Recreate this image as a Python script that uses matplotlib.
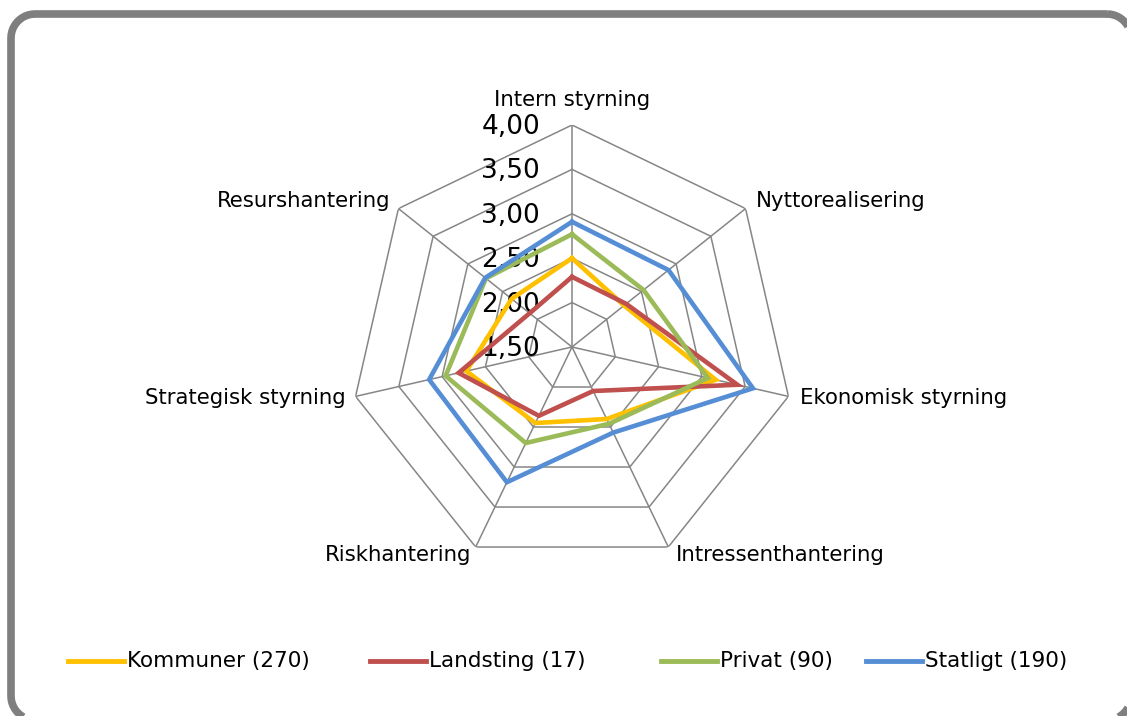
import numpy as np
import matplotlib
matplotlib.use('Agg')
import matplotlib.pyplot as plt
from matplotlib.lines import Line2D
from matplotlib.patches import Polygon

# kategorier (medurs från toppen)
categories = ['Intern styrning', 'Nyttorealisering', 'Ekonomisk styrning',
              'Intressenthantering', 'Riskhantering', 'Strategisk styrning',
              'Resurshantering']

# värden per grupp
kommuner = [2.50, 2.25, 3.16, 2.40, 2.45, 2.72, 2.37]
landsting = [2.29, 2.28, 3.41, 2.05, 2.36, 2.81, 2.11]
privat = [2.77, 2.53, 3.07, 2.46, 2.70, 2.96, 2.74]
statligt = [2.91, 2.89, 3.59, 2.57, 3.19, 3.15, 2.75]

series_names = ['Kommuner (270)', 'Landsting (17)', 'Privat (90)', 'Statligt (190)']
series_values = [kommuner, landsting, privat, statligt]
series_colors = ['#FFC000', '#C0504D', '#9BBB59', '#558ED5']

ticks = [1.5, 2.0, 2.5, 3.0, 3.5, 4.0]

W, H = 1127, 716
fig = plt.figure(figsize=(W / 100, H / 100), dpi=100)


def rounded_rect(x0, y0, x1, y1, rad):
    """hörnpunkter för en rundad rektangel i pixlar (y nedåt)"""
    pts = []
    for (ccx, ccy, a0) in [(x1 - rad, y0 + rad, -90), (x1 - rad, y1 - rad, 0),
                           (x0 + rad, y1 - rad, 90), (x0 + rad, y0 + rad, 180)]:
        a = np.radians(np.linspace(a0, a0 + 90, 12))
        pts += [(ccx + rad * np.cos(v), ccy + rad * np.sin(v)) for v in a]
    return [(px / W, 1 - py / H) for px, py in pts]


# ram runt diagrammet (går utanför bilden nere och till höger)
frame = Polygon(rounded_rect(11, 14, 1131, 720, 24), closed=True,
                transform=fig.transFigure, facecolor='none',
                edgecolor='#7F7F7F', linewidth=5.5, zorder=-1)
fig.patches.append(frame)

cx, cy, R = 572, 347, 222
ax = fig.add_axes([(cx - R) / W, (H - cy - R) / H, 2 * R / W, 2 * R / H],
                  projection='polar')
ax.set_theta_offset(np.pi / 2)
ax.set_theta_direction(-1)
ax.set_ylim(ticks[0], ticks[-1])
ax.grid(False)
ax.spines['polar'].set_visible(False)
ax.set_xticks([])
ax.set_yticks([])
ax.patch.set_alpha(0)

n = len(categories)
theta = np.linspace(0, 2 * np.pi, n, endpoint=False)
theta_c = np.append(theta, theta[0])

grid_col = '#868686'
for r in ticks[1:]:
    ax.plot(theta_c, [r] * (n + 1), color=grid_col, lw=1.1, zorder=1)
for t in theta:
    ax.plot([t, t], [ticks[0], ticks[-1]], color=grid_col, lw=1.1, zorder=1)

for vals, col in zip(series_values, series_colors):
    ax.plot(theta_c, vals + vals[:1], color=col, lw=3.3, zorder=3,
            solid_joinstyle='miter', clip_on=False)

# skalans etiketter
for r in ticks:
    ax.annotate(f'{r:.2f}'.replace('.', ','), xy=(0, r), xytext=(-32, -2),
                textcoords='offset pixels', ha='right', va='center',
                fontsize=19, color='black', zorder=2, annotation_clip=False)

# kategoriernas etiketter
offsets = [(0, 25), (10, 8), (12, -2), (8, -8), (-4, -8), (-10, -2), (-8, 8)]
aligns = ['center', 'left', 'left', 'left', 'right', 'right', 'right']
for t, lab, off, ha in zip(theta, categories, offsets, aligns):
    ax.annotate(lab, xy=(t, ticks[-1]), xytext=off, textcoords='offset pixels',
                ha=ha, va='center', fontsize=15.3, annotation_clip=False)

# förklaring
leg_x = [68, 370, 661, 866]
leg_y = (H - 661) / H
for x0, name, col in zip(leg_x, series_names, series_colors):
    fig.add_artist(Line2D([x0 / W, (x0 + 56) / W], [leg_y, leg_y], color=col,
                          lw=3.5, transform=fig.transFigure))
    fig.text((x0 + 59) / W, leg_y, name, ha='left', va='center', fontsize=15.5)

fig.savefig('out.png', dpi=100)
